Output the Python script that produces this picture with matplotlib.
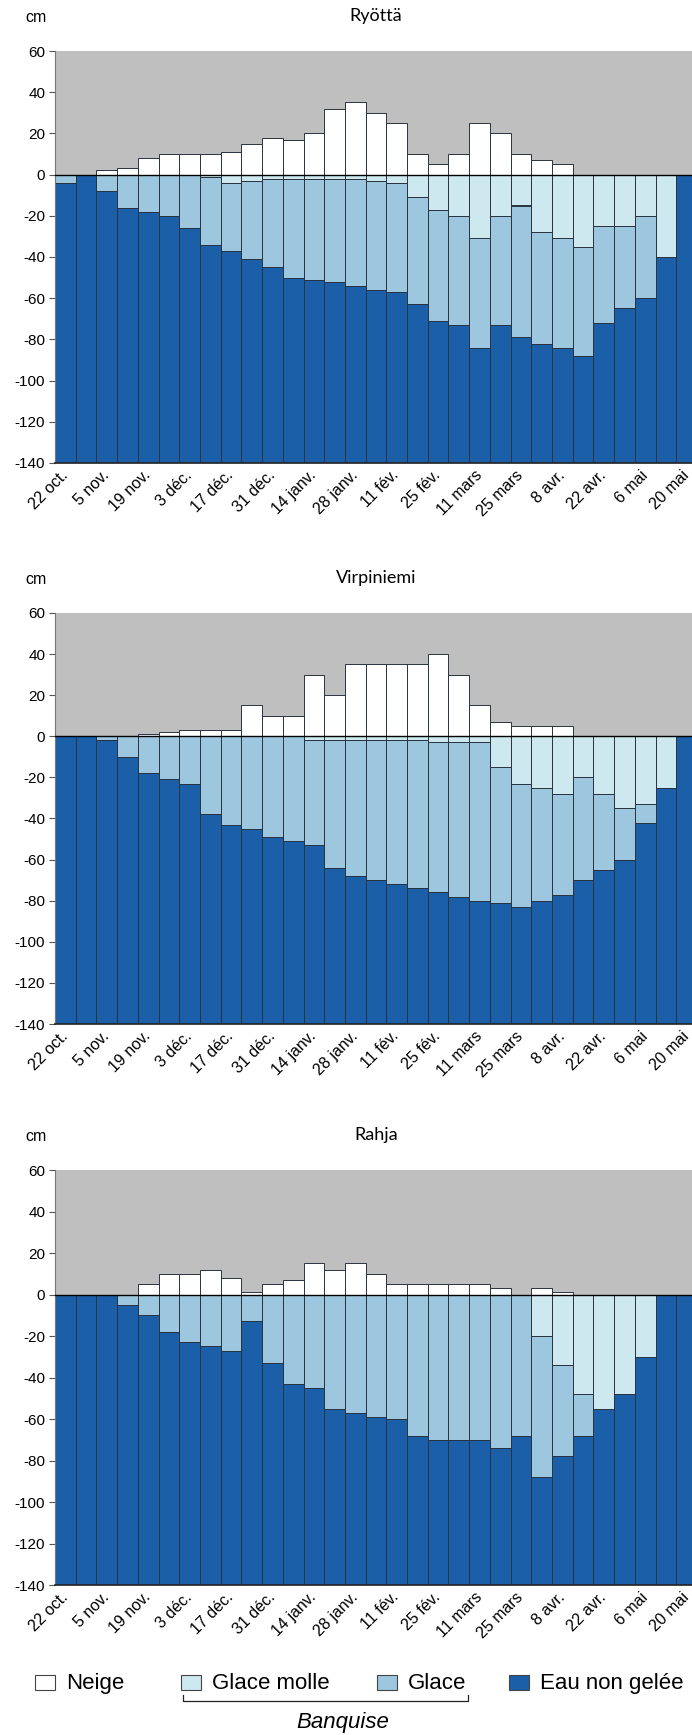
import matplotlib
matplotlib.use('Agg')
import matplotlib.pyplot as plt
from matplotlib.patches import Rectangle
import numpy as np

plt.rcParams['font.family'] = ['Liberation Sans', 'DejaVu Sans']
plt.rcParams['axes.unicode_minus'] = False

# semaines du 22 oct. au 20 mai (31 barres), étiquette toutes les 2 semaines
dates = ['22 oct.', '5 nov.', '19 nov.', '3 déc.', '17 déc.', '31 déc.', '14 janv.',
         '28 janv.', '11 fév.', '25 fév.', '11 mars', '25 mars', '8 avr.', '22 avr.',
         '6 mai', '20 mai']
n_weeks = 31
bottom_level = 140  # profondeur du fond de l'échelle (cm)

# Ryöttä : épaisseurs en cm
ryotta_neige = [0, 0, 2, 3, 8, 10, 10, 10, 11, 15, 18, 17, 20, 32, 35, 30, 25, 10, 5, 10,
                25, 20, 10, 7, 5, 0, 0, 0, 0, 0, 0]
ryotta_molle = [0, 0, 0, 0, 0, 0, 0, 1, 4, 3, 2, 2, 2, 2, 2, 3, 4, 11, 17, 20,
                31, 20, 15, 28, 31, 35, 25, 25, 20, 40, 0]
ryotta_glace = [4, 0, 8, 16, 18, 20, 26, 33, 33, 38, 43, 48, 49, 50, 52, 53, 53, 52, 54, 53,
                53, 53, 64, 54, 53, 53, 47, 40, 40, 0, 0]

# Virpiniemi
virp_neige = [0, 0, 0, 0, 1, 2, 3, 3, 3, 15, 10, 10, 30, 20, 35, 35, 35, 35, 40, 30,
              15, 7, 5, 5, 5, 0, 0, 0, 0, 0, 0]
virp_molle = [0, 0, 0, 0, 0, 0, 0, 0, 0, 0, 0, 0, 2, 2, 2, 2, 2, 2, 3, 3,
              3, 15, 23, 25, 28, 20, 28, 35, 33, 25, 0]
virp_glace = [0, 0, 2, 10, 18, 21, 23, 38, 43, 45, 49, 51, 51, 62, 66, 68, 70, 72, 73, 75,
              77, 66, 60, 55, 49, 50, 37, 25, 9, 0, 0]

# Rahja
rahja_neige = [0, 0, 0, 0, 5, 10, 10, 12, 8, 1, 5, 7, 15, 12, 15, 10, 5, 5, 5, 5,
               5, 3, 0, 3, 1, 0, 0, 0, 0, 0, 0]
rahja_molle = [0, 0, 0, 0, 0, 0, 0, 0, 0, 0, 0, 0, 0, 0, 0, 0, 0, 0, 0, 0,
               0, 0, 0, 20, 34, 48, 55, 48, 30, 0, 0]
rahja_glace = [0, 0, 0, 5, 10, 18, 23, 25, 27, 13, 33, 43, 45, 55, 57, 59, 60, 68, 70, 70,
               70, 74, 68, 68, 44, 20, 0, 0, 0, 0, 0]

sites = [('Ryöttä', ryotta_neige, ryotta_molle, ryotta_glace),
         ('Virpiniemi', virp_neige, virp_molle, virp_glace),
         ('Rahja', rahja_neige, rahja_molle, rahja_glace)]

c_gris = '#bfbfbf'
c_neige = 'white'
c_molle = '#cde8ee'
c_glace = '#9cc7de'
c_eau = '#1a5fa8'
c_bord = '#2a3340'

W, H = 692, 1735
fig = plt.figure(figsize=(W / 100, H / 100), dpi=100)

def fx(px):
    return px / W

def fy(py):
    return 1 - py / H

# position des panneaux (haut, bas) en pixels
panels = [(51, 463), (613, 1024), (1170, 1585)]
x = np.arange(n_weeks)

for (nom, neige, molle, glace), (top, bot) in zip(sites, panels):
    ax = fig.add_axes([fx(55), fy(bot), fx(697) - fx(55), (bot - top) / H])
    ax.set_facecolor(c_gris)
    neige = np.array(neige)
    molle = np.array(molle)
    glace = np.array(glace)
    eau = bottom_level - molle - glace

    kw = dict(width=1.0, edgecolor=c_bord, linewidth=0.7)
    ax.bar(x, neige, color=c_neige, **kw)
    ax.bar(x, -molle, color=c_molle, **kw)
    ax.bar(x, -glace, bottom=-molle, color=c_glace, **kw)
    ax.bar(x, -eau, bottom=-(molle + glace), color=c_eau, **kw)
    ax.axhline(0, color='black', lw=1.0, zorder=5)

    ax.set_xlim(-0.5, n_weeks - 0.5)
    ax.set_ylim(-140, 60)
    ax.set_yticks(range(-140, 61, 20))
    ax.set_xticks(x[::2])
    ax.set_xticklabels(dates, rotation=45, ha='right', va='center',
                       rotation_mode='anchor', fontsize=11.5)
    ax.tick_params(axis='x', length=0, pad=7)
    ax.tick_params(axis='y', length=4, width=0.8, color='#555555', labelsize=11, pad=3)
    for s in ['top', 'right']:
        ax.spines[s].set_visible(False)
    ax.spines['left'].set_color('#777777')
    ax.spines['bottom'].set_color('#222222')
    ax.spines['bottom'].set_linewidth(1.2)

    fig.text(fx(36), fy(top - 34), 'cm', fontsize=11.5, ha='center', va='center')
    fig.text(fx(376), fy(top - 35), nom, fontsize=13, ha='center', va='center',
             family=['Lato', 'DejaVu Sans'])

# légende dessinée à la main (avec l'accolade "Banquise")
lg = fig.add_axes([0, 0, 1, 1])
lg.set_xlim(0, W)
lg.set_ylim(H, 0)
lg.axis('off')
legend_items = [('Neige', c_neige, 35), ('Glace molle', c_molle, 181),
                ('Glace', c_glace, 377), ('Eau non gelée', c_eau, 509)]
for lab, col, x0 in legend_items:
    lg.add_patch(Rectangle((x0, 1675), 20, 15, facecolor=col, edgecolor='#444444', lw=0.8))
    lg.text(x0 + 31, 1683, lab, fontsize=16, va='center', ha='left')
lg.plot([183, 183, 468, 468], [1695, 1701, 1701, 1695], color='#222222', lw=0.9)
lg.text(343, 1722, 'Banquise', fontsize=16, style='italic', ha='center', va='center')

fig.savefig('out.png', dpi=100)
